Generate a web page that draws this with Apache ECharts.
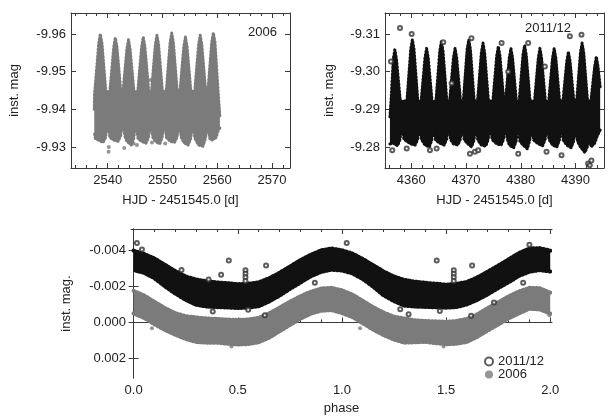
<!DOCTYPE html>
<html>
<head>
<meta charset="utf-8">
<script src="https://cdn.jsdelivr.net/npm/echarts@6/dist/echarts.min.js"></script>
<style>
  html, body { margin: 0; padding: 0; background: #fff; }
  #chart { width: 610px; height: 416px; }
</style>
</head>
<body>
<div id="chart"></div>
<script>
// 2006 light curve (HJD - 2451545.0, inst. mag): upper and lower edge of the point cloud
const tUp2006 = [2537.55, 2537.6, 2538.36, 2538.66, 2538.96, 2539.66, 2540.4, 2541.1, 2541.4, 2541.7,
  2542.4, 2542.8, 2543.5, 2543.8, 2544.1, 2544.8, 2545.5, 2546.2, 2546.5, 2546.8,
  2547.5, 2548.0, 2548.7, 2549.0, 2549.3, 2550.0, 2550.7, 2551.4, 2551.7, 2552.0,
  2552.7, 2553.2, 2553.9, 2554.2, 2554.5, 2555.2, 2555.9, 2556.6, 2556.9, 2557.2,
  2557.9, 2558.3, 2559.0, 2559.3, 2559.6, 2560.3, 2560.5]
const mUp2006 = [-9.9400, -9.9440, -9.9575, -9.9600, -9.9575, -9.9448, -9.9448, -9.9565, -9.9590, -9.9565,
  -9.9448, -9.9448, -9.9560, -9.9585, -9.9560, -9.9448, -9.9448, -9.9567, -9.9592, -9.9567,
  -9.9448, -9.9448, -9.9572, -9.9597, -9.9572, -9.9448, -9.9448, -9.9578, -9.9603, -9.9578,
  -9.9448, -9.9448, -9.9567, -9.9592, -9.9567, -9.9448, -9.9448, -9.9572, -9.9597, -9.9572,
  -9.9448, -9.9448, -9.9578, -9.9603, -9.9578, -9.9420, -9.9380]
const tLo2006 = [2537.55, 2537.75, 2538.36, 2539.16, 2539.61, 2540.01, 2540.41, 2541.1, 2541.9, 2542.35,
  2542.75, 2543.15, 2543.5, 2544.3, 2544.75, 2545.15, 2545.55, 2546.2, 2547.0, 2547.45,
  2547.85, 2548.25, 2548.7, 2549.5, 2549.95, 2550.35, 2550.75, 2551.4, 2552.2, 2552.65,
  2553.05, 2553.45, 2553.9, 2554.7, 2555.15, 2555.55, 2555.95, 2556.6, 2557.4, 2557.85,
  2558.25, 2558.65, 2559.0, 2559.8, 2560.2, 2560.5]
const mLo2006 = [-9.9340, -9.9322, -9.9318, -9.9312, -9.9325, -9.9368, -9.9325, -9.9318, -9.9315, -9.9328,
  -9.9370, -9.9328, -9.9315, -9.9305, -9.9322, -9.9365, -9.9322, -9.9315, -9.9310, -9.9325,
  -9.9368, -9.9325, -9.9315, -9.9308, -9.9325, -9.9368, -9.9325, -9.9315, -9.9312, -9.9325,
  -9.9365, -9.9325, -9.9312, -9.9305, -9.9322, -9.9362, -9.9322, -9.9305, -9.9302, -9.9322,
  -9.9362, -9.9322, -9.9318, -9.9325, -9.9345, -9.9350]
const t2006Out = [2540.16, 2540.2, 2543.03, 2544.72, 2545.34, 2547.77, 2545.22, 2550.51, 2548.08]
const m2006Out = [-9.9287, -9.9300, -9.9297, -9.9309, -9.9305, -9.9478, -9.9443, -9.9309, -9.9312]

// 2011/12 light curve, top-right panel
const tUp2011 = [4356.1, 4356.3, 4356.7, 4357.0, 4357.3, 4358.0, 4359.2, 4359.9, 4360.2, 4360.5,
  4361.2, 4361.8, 4362.5, 4362.8, 4363.1, 4363.8, 4364.5, 4365.2, 4365.5, 4365.8,
  4366.5, 4367.0, 4367.7, 4368.0, 4368.3, 4369.0, 4369.5, 4370.2, 4370.5, 4370.8,
  4371.5, 4372.1, 4372.8, 4373.1, 4373.4, 4374.1, 4374.9, 4375.6, 4375.9, 4376.2,
  4376.9, 4377.2, 4377.9, 4378.2, 4378.5, 4379.2, 4379.7, 4380.4, 4380.7, 4381.0,
  4381.7, 4382.5, 4383.2, 4383.5, 4383.8, 4384.5, 4385.1, 4385.8, 4386.1, 4386.4,
  4387.1, 4387.7, 4388.4, 4388.7, 4389.0, 4389.7, 4390.2, 4390.9, 4391.2, 4391.5,
  4392.2, 4392.8, 4393.5, 4393.8, 4394.1, 4394.5]
const mUp2011 = [-9.2880, -9.2922, -9.3033, -9.3058, -9.3033, -9.2922, -9.2922, -9.3060, -9.3085, -9.3060,
  -9.2922, -9.2922, -9.3037, -9.3062, -9.3037, -9.2922, -9.2922, -9.3055, -9.3080, -9.3055,
  -9.2922, -9.2922, -9.3037, -9.3062, -9.3037, -9.2922, -9.2922, -9.3060, -9.3085, -9.3060,
  -9.2922, -9.2922, -9.3051, -9.3076, -9.3051, -9.2922, -9.2922, -9.3042, -9.3067, -9.3042,
  -9.2922, -9.2922, -9.3037, -9.3062, -9.3037, -9.2922, -9.2922, -9.3045, -9.3070, -9.3045,
  -9.2922, -9.2922, -9.3037, -9.3062, -9.3037, -9.2922, -9.2922, -9.3037, -9.3062, -9.3037,
  -9.2922, -9.2922, -9.3028, -9.3053, -9.3028, -9.2922, -9.2922, -9.3051, -9.3076, -9.3051,
  -9.2922, -9.2922, -9.3015, -9.3040, -9.3015, -9.2960]
const tLo2011 = [4356.1, 4356.7, 4357.5, 4357.95, 4358.3, 4358.65, 4359.9, 4360.7, 4361.15, 4361.5,
  4361.85, 4362.5, 4363.3, 4363.75, 4364.1, 4364.45, 4365.2, 4366.0, 4366.45, 4366.8,
  4367.15, 4367.7, 4368.5, 4368.95, 4369.3, 4369.65, 4370.2, 4371.0, 4371.45, 4371.8,
  4372.15, 4372.8, 4373.6, 4374.05, 4374.4, 4374.75, 4375.6, 4376.4, 4376.85, 4377.2,
  4377.55, 4377.9, 4378.7, 4379.15, 4379.5, 4379.85, 4380.4, 4381.2, 4381.65, 4382.0,
  4382.35, 4383.2, 4384.0, 4384.45, 4384.8, 4385.15, 4385.8, 4386.6, 4387.05, 4387.4,
  4387.75, 4388.4, 4389.2, 4389.65, 4390.0, 4390.35, 4390.9, 4391.7, 4392.15, 4392.5,
  4392.85, 4393.5, 4394.0, 4394.5]
const mLo2011 = [-9.2808, -9.2810, -9.2803, -9.2820, -9.2862, -9.2820, -9.2808, -9.2805, -9.2820, -9.2860,
  -9.2820, -9.2805, -9.2800, -9.2818, -9.2862, -9.2818, -9.2810, -9.2805, -9.2820, -9.2860,
  -9.2820, -9.2808, -9.2805, -9.2820, -9.2862, -9.2820, -9.2810, -9.2800, -9.2818, -9.2860,
  -9.2818, -9.2805, -9.2802, -9.2820, -9.2862, -9.2820, -9.2808, -9.2805, -9.2820, -9.2858,
  -9.2820, -9.2805, -9.2798, -9.2815, -9.2858, -9.2815, -9.2805, -9.2795, -9.2818, -9.2860,
  -9.2818, -9.2808, -9.2803, -9.2820, -9.2860, -9.2820, -9.2805, -9.2800, -9.2818, -9.2860,
  -9.2818, -9.2805, -9.2798, -9.2815, -9.2858, -9.2815, -9.2800, -9.2785, -9.2800, -9.2830,
  -9.2800, -9.2810, -9.2830, -9.2845]
const t2011Out = [4356.53, 4359.16, 4363.41, 4364.63, 4370.71, 4371.62, 4372.23, 4379.53, 4384.7, 4387.44,
  4392.3, 4392.6, 4392.9, 4357.94, 4360.07, 4365.84, 4370.99, 4376.5, 4377.7, 4381.35,
  4388.96, 4391.09, 4367.37, 4356.29, 4384.4]
const m2011Out = [-9.2791, -9.2796, -9.2791, -9.2796, -9.2782, -9.2787, -9.2791, -9.2782, -9.2787, -9.2778,
  -9.2756, -9.2751, -9.2764, -9.3116, -9.3100, -9.3078, -9.3089, -9.3076, -9.3000, -9.3076,
  -9.3094, -9.3098, -9.2969, -9.3027, -9.3014]

// phased curves: band edges per phase
const phase = [0.00, 0.05, 0.10, 0.15, 0.20, 0.25, 0.30, 0.35, 0.40, 0.45, 0.50, 0.55, 0.60, 0.65, 0.70,
  0.75, 0.80, 0.85, 0.90, 0.95, 1.00, 1.05, 1.10, 1.15, 1.20, 1.25, 1.30, 1.35, 1.40, 1.45,
  1.50, 1.55, 1.60, 1.65, 1.70, 1.75, 1.80, 1.85, 1.90, 1.95, 2.00]
const top2011 = [-0.00398, -0.00380, -0.00355, -0.00320, -0.00285, -0.00255, -0.00238, -0.00228, -0.00222, -0.00218,
  -0.00212, -0.00215, -0.00222, -0.00245, -0.00275, -0.00310, -0.00345, -0.00375, -0.00400, -0.00410,
  -0.00400, -0.00382, -0.00352, -0.00318, -0.00283, -0.00255, -0.00236, -0.00226, -0.00220, -0.00215,
  -0.00209, -0.00214, -0.00225, -0.00250, -0.00282, -0.00315, -0.00350, -0.00385, -0.00410, -0.00412, -0.00398]
const bot2011 = [-0.00290, -0.00275, -0.00245, -0.00200, -0.00160, -0.00125, -0.00098, -0.00088, -0.00085, -0.00083,
  -0.00080, -0.00082, -0.00090, -0.00115, -0.00148, -0.00185, -0.00220, -0.00255, -0.00280, -0.00292,
  -0.00288, -0.00272, -0.00240, -0.00198, -0.00150, -0.00118, -0.00093, -0.00088, -0.00086, -0.00084,
  -0.00082, -0.00085, -0.00100, -0.00125, -0.00155, -0.00190, -0.00222, -0.00258, -0.00281, -0.00290, -0.00282]
const top2006 = [-0.00175, -0.00150, -0.00115, -0.00080, -0.00052, -0.00035, -0.00028, -0.00022, -0.00020, -0.00016,
  -0.00014, -0.00016, -0.00025, -0.00050, -0.00082, -0.00115, -0.00145, -0.00170, -0.00188, -0.00192,
  -0.00178, -0.00155, -0.00120, -0.00085, -0.00055, -0.00032, -0.00022, -0.00012, -0.00008, -0.00006,
  -0.00004, -0.00008, -0.00020, -0.00045, -0.00080, -0.00112, -0.00145, -0.00172, -0.00192, -0.00190, -0.00165]
const bot2006 = [-0.00050, -0.00025, 0.00010, 0.00042, 0.00068, 0.00092, 0.00108, 0.00112, 0.00112, 0.00118,
  0.00122, 0.00120, 0.00110, 0.00085, 0.00050, 0.00015, -0.00020, -0.00048, -0.00065, -0.00068,
  -0.00052, -0.00030, 0.00005, 0.00040, 0.00070, 0.00095, 0.00112, 0.00110, 0.00108, 0.00115,
  0.00121, 0.00118, 0.00108, 0.00080, 0.00045, 0.00012, -0.00022, -0.00050, -0.00076, -0.00072, -0.00049]
const phOut2011 = [0.016, 0.04, 0.457, 0.636, 0.42, 0.36, 0.23, 0.63, 0.38, 0.55, 0.87, 0.537, 0.537, 0.537, 0.537,
  1.023, 1.455, 1.625, 1.9, 1.28, 1.32, 1.47, 1.62, 1.73, 1.87, 1.537, 1.537, 1.537, 1.537]
const mOut2011 = [-0.00441, -0.00405, -0.00343, -0.00316, -0.00265, -0.00238, -0.00291, -0.00040, -0.00060, -0.00070, -0.00220, -0.00290, -0.00270, -0.00250, -0.00230,
  -0.00441, -0.00343, -0.00316, -0.00430, -0.00073, -0.00046, -0.00064, -0.00037, -0.00110, -0.00220, -0.00290, -0.00270, -0.00250, -0.00230]
const phOut2006 = [0.088, 0.47, 1.087, 1.488, 1.996]
const mOut2006 = [0.00032, 0.00133, 0.00032, 0.00133, -0.00040]

// ticks
const ticksTL = [2540, 2550, 2560, 2570]
const minorTL = [2534, 2536, 2538, 2542, 2544, 2546, 2548, 2552, 2554, 2556, 2558, 2562, 2564, 2566, 2568, 2572]
const ticksTR = [4360, 4370, 4380, 4390]
const minorTR = [4356, 4358, 4362, 4364, 4366, 4368, 4372, 4374, 4376, 4378, 4382, 4384, 4386, 4388, 4392, 4394]
const yTicksTL = [-9.96, -9.95, -9.94, -9.93]
const yTicksTR = [-9.31, -9.30, -9.29, -9.28]
const ticksPh = [0, 0.5, 1.0, 1.5, 2.0]
const minorPh = [0.1, 0.2, 0.3, 0.4, 0.6, 0.7, 0.8, 0.9, 1.1, 1.2, 1.3, 1.4, 1.6, 1.7, 1.8, 1.9]
const yTicksPh = [-0.004, -0.002, 0.000, 0.002]

const FONT = '"Liberation Sans", Arial, sans-serif'
const AX = '#3a3a3a'
const TXT = '#222'
const GRAY = '#7b7b7b'
const BLACK = '#111'

const zip = (a, b) => a.map((v, i) => [v, b[i]])

function xAxes(gi, min, max, major, minor, digits, name, gap) {
  const base = { type: 'value', gridIndex: gi, min, max, splitLine: { show: false } }
  const line = { lineStyle: { color: AX, width: 1 } }
  const tick = (vals, len) => ({ inside: true, length: len, customValues: vals, lineStyle: { color: AX } })
  return [
    Object.assign({}, base, {
      position: 'bottom', axisLine: line, axisTick: tick(major, 5),
      axisLabel: { customValues: major, formatter: v => v.toFixed(digits), margin: 6, color: TXT, fontSize: 13, fontFamily: FONT },
      name, nameLocation: 'middle', nameGap: gap,
      nameTextStyle: { color: TXT, fontSize: 13, fontFamily: FONT }
    }),
    Object.assign({}, base, { position: 'bottom', axisLine: { show: false }, axisTick: tick(minor, 3), axisLabel: { show: false } }),
    Object.assign({}, base, { position: 'top', axisLine: line, axisTick: tick(major, 5), axisLabel: { show: false } }),
    Object.assign({}, base, { position: 'top', axisLine: { show: false }, axisTick: tick(minor, 3), axisLabel: { show: false } })
  ]
}

function yAxes(gi, min, max, major, digits, name, gap) {
  const base = { type: 'value', gridIndex: gi, min, max, inverse: true, splitLine: { show: false } }
  const line = { lineStyle: { color: AX, width: 1 } }
  const tick = { inside: true, length: 5, customValues: major, lineStyle: { color: AX } }
  return [
    Object.assign({}, base, {
      position: 'left', axisLine: line, axisTick: tick,
      axisLabel: { customValues: major, formatter: v => v.toFixed(digits), margin: 5, color: TXT, fontSize: 13, fontFamily: FONT },
      name, nameLocation: 'middle', nameRotate: 90, nameGap: gap,
      nameTextStyle: { color: TXT, fontSize: 13, fontFamily: FONT }
    }),
    Object.assign({}, base, { position: 'right', axisLine: line, axisTick: tick, axisLabel: { show: false } })
  ]
}

// filled region between the upper and lower edge of a point cloud, with a dotted rim for the scatter
function band(name, xi, yi, tU, mU, tL, mL, color, rim) {
  return {
    type: 'custom', name, xAxisIndex: xi, yAxisIndex: yi, clip: true, silent: true, z: 1,
    data: zip(tU, mU),
    renderItem(params, api) {
      if (params.dataIndex !== 0) return
      const upper = tU.map((t, i) => api.coord([t, mU[i]]))
      const lower = tL.map((t, i) => api.coord([t, mL[i]])).reverse()
      const rimStyle = { stroke: color, fill: null, lineWidth: rim, lineDash: [1, 2.5], lineCap: 'round', lineJoin: 'round' }
      return {
        type: 'group',
        children: [
          { type: 'polygon', shape: { points: upper.concat(lower) }, style: { fill: color } },
          { type: 'polyline', shape: { points: upper }, style: rimStyle },
          { type: 'polyline', shape: { points: lower }, style: rimStyle }
        ]
      }
    }
  }
}

const chart = echarts.init(document.getElementById('chart'), null, { renderer: 'canvas' })

chart.setOption({
  animation: false,
  backgroundColor: '#fff',
  grid: [
    { left: 71, top: 13, width: 219, height: 155 },
    { left: 385, top: 13, width: 219, height: 155 },
    { left: 131, top: 229, width: 421, height: 155 }
  ],
  xAxis: [].concat(
    xAxes(0, 2533.3, 2573.3, ticksTL, minorTL, 0, 'HJD - 2451545.0 [d]', 26),
    xAxes(1, 4355.2, 4395.2, ticksTR, minorTR, 0, 'HJD - 2451545.0 [d]', 26),
    xAxes(2, -0.0125, 2.0085, ticksPh, minorPh, 1, 'phase', 24)
  ),
  yAxis: [].concat(
    yAxes(0, -9.9656, -9.9244, yTicksTL, 2, 'inst. mag', 50),
    yAxes(1, -9.3156, -9.2744, yTicksTR, 2, 'inst. mag', 49),
    yAxes(2, -0.00518, 0.00308, yTicksPh, 3, 'inst. mag.', 58)
  ),
  legend: {
    orient: 'vertical', left: 479, top: 350, itemWidth: 8, itemHeight: 8, itemGap: 0,
    textStyle: { color: TXT, fontSize: 13, fontFamily: FONT },
    data: [
      { name: '2011/12', icon: 'emptyCircle', itemStyle: { borderWidth: 1 } },
      { name: '2006', icon: 'circle' }
    ]
  },
  graphic: [
    { type: 'text', left: 248, top: 26, style: { text: '2006', fill: TXT, font: '13px ' + FONT } },
    { type: 'text', left: 525, top: 22, style: { text: '2011/12', fill: TXT, font: '13px ' + FONT } }
  ],
  series: [
    band('lc2006', 0, 0, tUp2006, mUp2006, tLo2006, mLo2006, GRAY, 3),
    {
      type: 'scatter', name: 'out2006', xAxisIndex: 0, yAxisIndex: 0, data: zip(t2006Out, m2006Out),
      symbolSize: 4, itemStyle: { color: GRAY }
    },
    band('lc2011', 4, 2, tUp2011, mUp2011, tLo2011, mLo2011, BLACK, 3),
    {
      type: 'scatter', name: 'out2011', xAxisIndex: 4, yAxisIndex: 2, data: zip(t2011Out, m2011Out),
      symbol: 'emptyCircle', symbolSize: 4, itemStyle: { color: '#333', borderWidth: 0.8 }
    },
    band('band2006', 8, 4, phase, top2006, phase, bot2006, GRAY, 4),
    band('band2011', 8, 4, phase, top2011, phase, bot2011, BLACK, 4),
    {
      type: 'scatter', name: '2006', xAxisIndex: 8, yAxisIndex: 4, data: zip(phOut2006, mOut2006),
      symbolSize: 4, z: 3, itemStyle: { color: GRAY }
    },
    {
      type: 'scatter', name: '2011/12', xAxisIndex: 8, yAxisIndex: 4, data: zip(phOut2011, mOut2011),
      symbol: 'emptyCircle', symbolSize: 4, z: 3, itemStyle: { color: '#333', borderWidth: 0.8 }
    }
  ]
})
</script>
</body>
</html>
